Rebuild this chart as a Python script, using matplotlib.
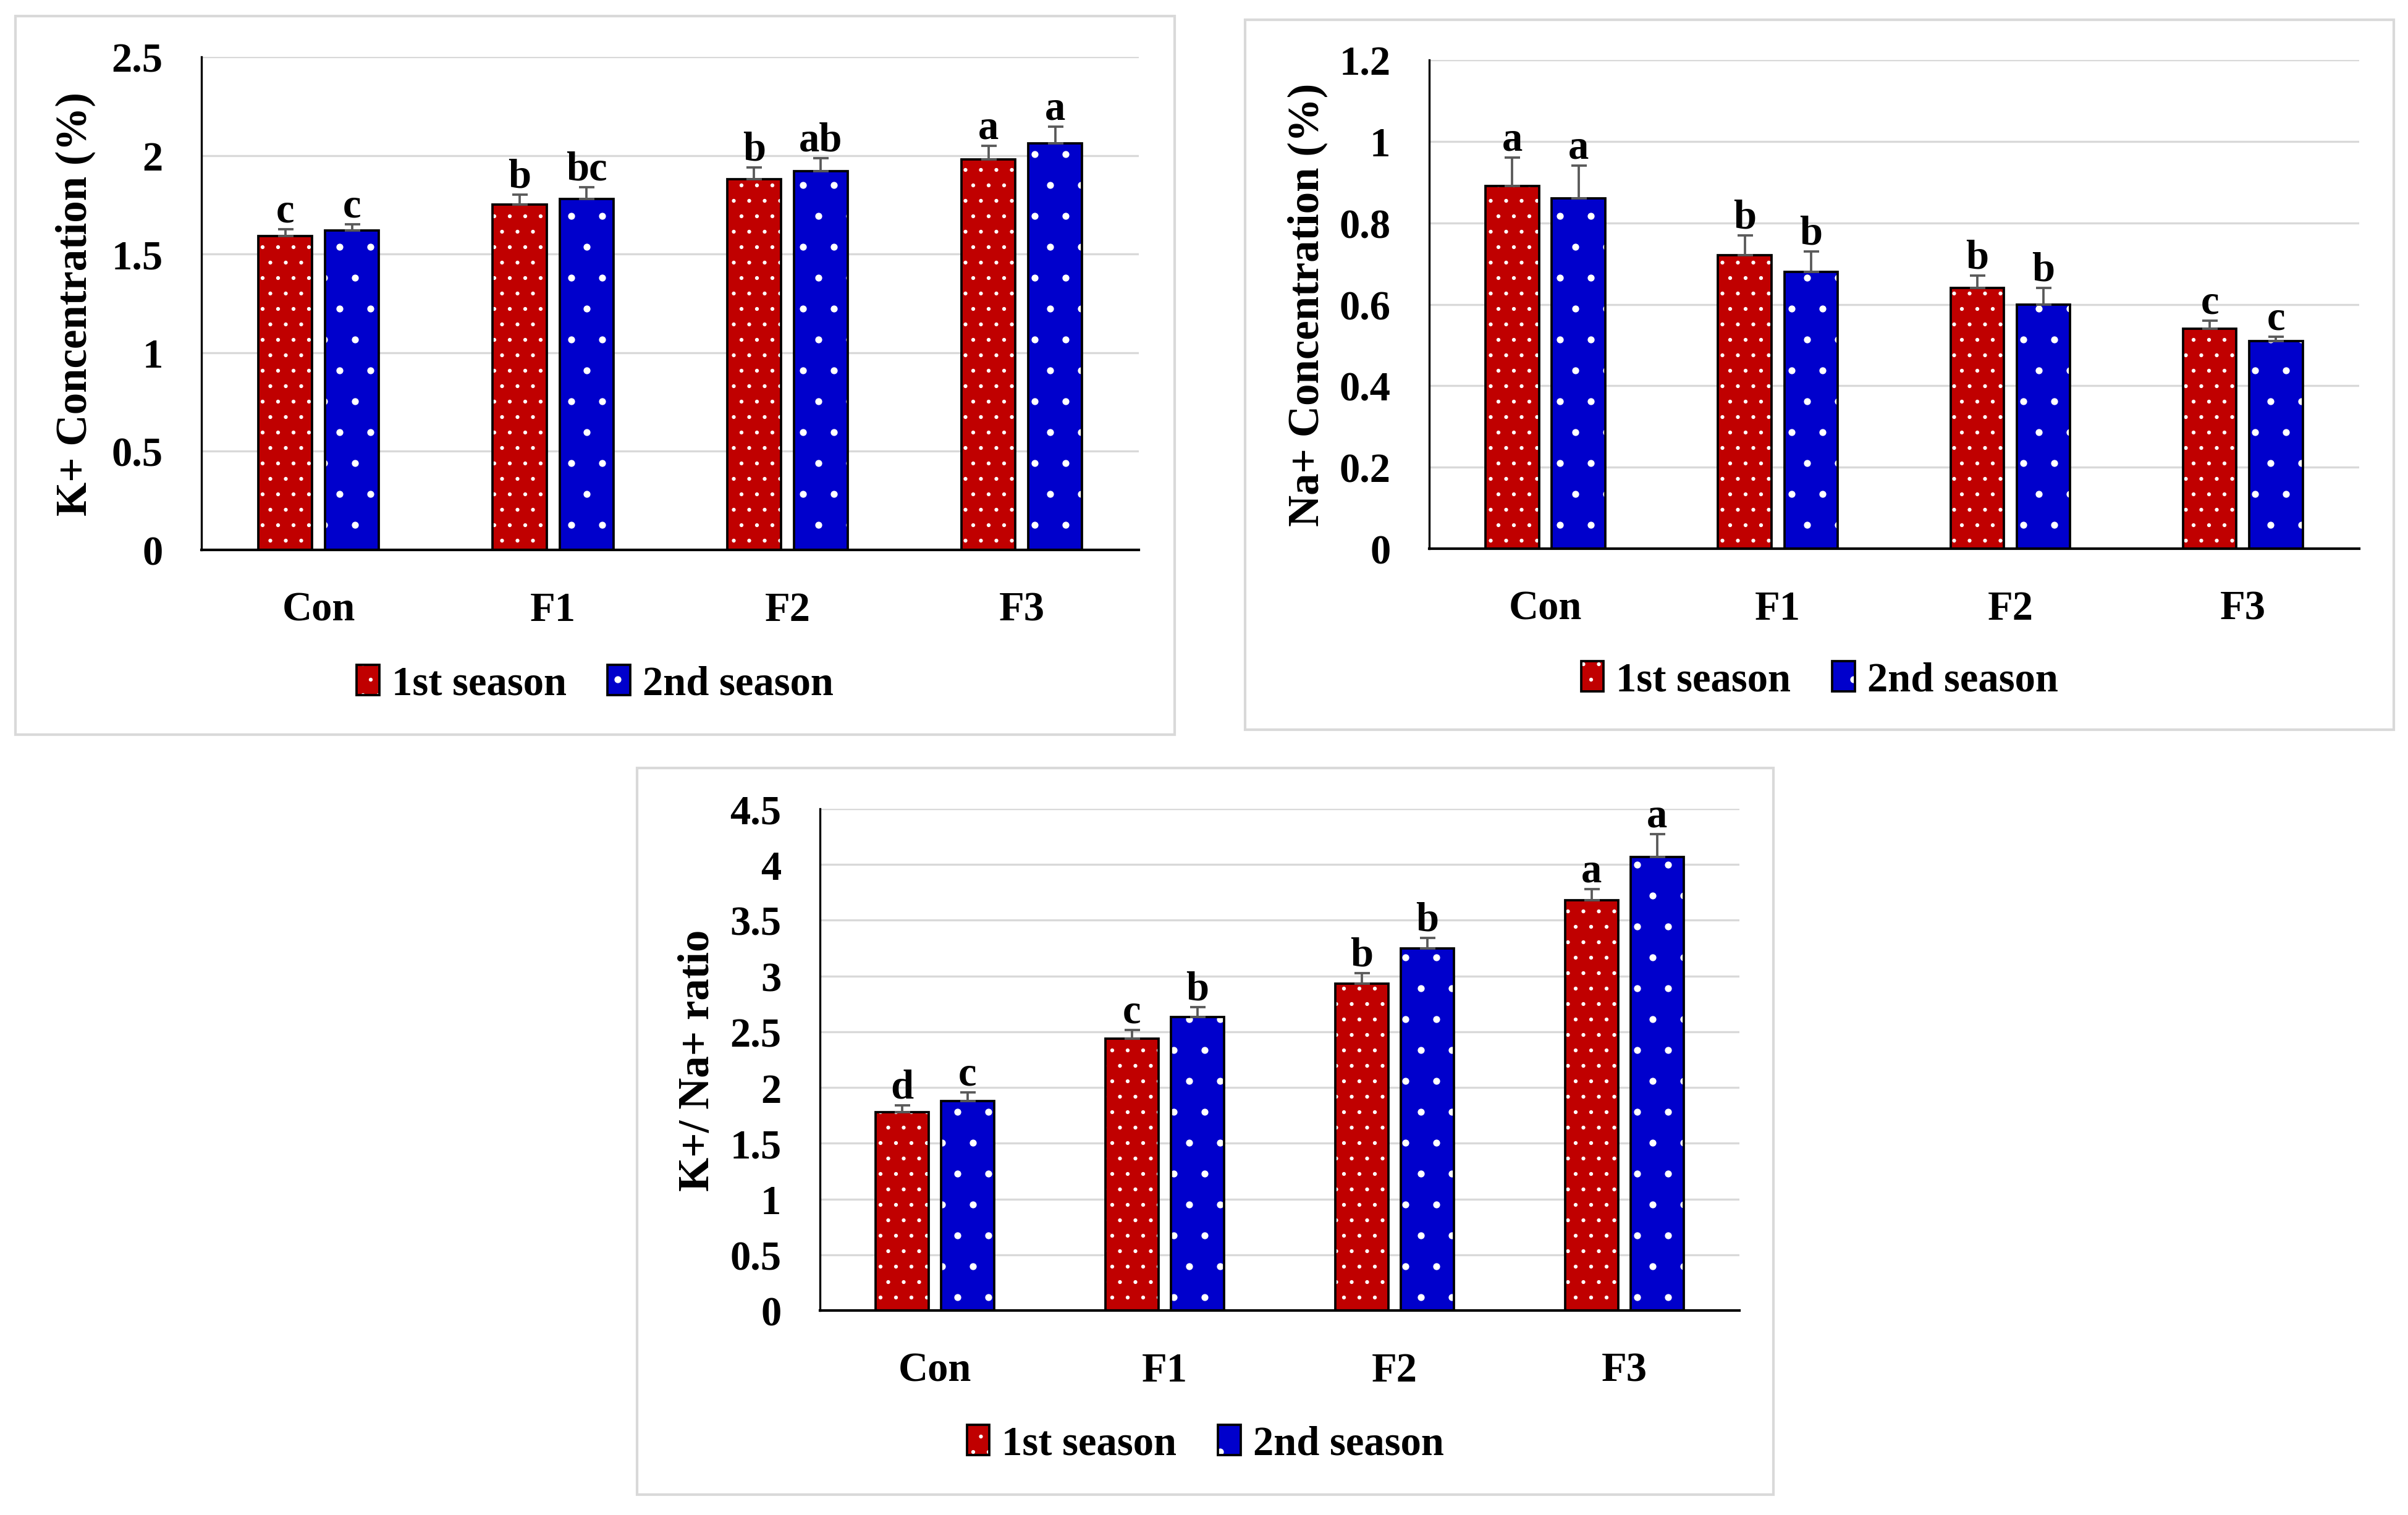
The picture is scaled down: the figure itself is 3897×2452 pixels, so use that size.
import matplotlib
matplotlib.use("Agg")
import matplotlib.pyplot as plt
import numpy as np
from matplotlib.patches import Rectangle, Patch

plt.rcParams['font.family'] = ['Liberation Serif', 'DejaVu Serif']
plt.rcParams['font.weight'] = 'bold'
plt.rcParams['hatch.linewidth'] = 0.3

# ---- data ----
categories = ['Con', 'F1', 'F2', 'F3']
seasons = ['1st season', '2nd season']

k_s1 = [1.59, 1.75, 1.88, 1.98]
k_s2 = [1.62, 1.78, 1.92, 2.06]
k_err1 = [0.035, 0.05, 0.06, 0.07]
k_err2 = [0.03, 0.06, 0.065, 0.085]
k_let1 = ['c', 'b', 'b', 'a']
k_let2 = ['c', 'bc', 'ab', 'a']

na_s1 = [0.89, 0.72, 0.64, 0.54]
na_s2 = [0.86, 0.68, 0.60, 0.51]
na_err1 = [0.07, 0.05, 0.03, 0.02]
na_err2 = [0.08, 0.05, 0.04, 0.01]
na_let1 = ['a', 'b', 'b', 'c']
na_let2 = ['a', 'b', 'b', 'c']

ratio_s1 = [1.78, 2.44, 2.93, 3.68]
ratio_s2 = [1.88, 2.63, 3.25, 4.07]
ratio_err1 = [0.06, 0.075, 0.095, 0.10]
ratio_err2 = [0.075, 0.09, 0.09, 0.20]
ratio_let1 = ['d', 'c', 'b', 'a']
ratio_let2 = ['c', 'b', 'b', 'a']

colors = ['#C00000', '#0000CC']
hatches = ['..', '.']
FS = 16

W, H = 3897, 2453
fig = plt.figure(figsize=(W / 300, H / 300), dpi=300)


def draw_panel(ax_rect, box_rect, legend_y, ylabel, label_x, vals, errs, lets, ymax, step):
    # frame round the chart area
    fig.add_artist(Rectangle((box_rect[0], box_rect[1]), box_rect[2], box_rect[3],
                             transform=fig.transFigure, fill=False,
                             edgecolor='#d9d9d9', lw=1.0))
    ax = fig.add_axes(ax_rect)
    x = np.arange(len(categories))
    width = 0.23
    offsets = [-0.1425, 0.1425]
    for k in range(2):
        xs = x + offsets[k]
        ax.bar(xs, vals[k], width, color=colors[k], hatch=hatches[k],
               edgecolor='white', linewidth=0, zorder=2)
        ax.bar(xs, vals[k], width, fill=False, edgecolor='black',
               linewidth=0.9, zorder=3)
        ax.errorbar(xs, vals[k], yerr=[np.zeros(len(xs)), errs[k]], fmt='none',
                    ecolor='#595959', elinewidth=0.9, capsize=3, capthick=0.9,
                    zorder=4)
        for xi, v, e, t in zip(xs, vals[k], errs[k], lets[k]):
            ax.annotate(t, (xi, v + e), xytext=(0, 3), textcoords='offset points',
                        ha='center', va='baseline', fontsize=FS, fontweight='bold')

    ax.set_xlim(-0.5, len(categories) - 0.5)
    ax.set_ylim(0, ymax)
    ticks = np.arange(0, ymax + step / 2, step)
    ax.set_yticks(ticks)
    ax.set_yticklabels([f"{t:g}" for t in ticks])
    ax.set_xticks(x)
    ax.set_xticklabels(categories)
    ax.tick_params(axis='y', length=0, pad=15, labelsize=FS)
    ax.tick_params(axis='x', length=0, pad=16, labelsize=FS)
    ax.yaxis.grid(True, color='#d9d9d9', lw=0.8, zorder=0)
    ax.set_axisbelow(True)
    for s in ['top', 'right']:
        ax.spines[s].set_visible(False)
    ax.spines['left'].set_linewidth(0.8)
    ax.spines['bottom'].set_linewidth(1.0)
    ax.set_ylabel(ylabel, fontsize=17, fontweight='bold')
    ax.yaxis.set_label_coords(label_x, 0.5)

    handles = [(Patch(facecolor=colors[k], hatch=hatches[k], edgecolor='white', lw=0),
                Patch(fill=False, edgecolor='black', lw=0.9)) for k in range(2)]
    ax.legend(handles, seasons, loc='center',
              bbox_to_anchor=(box_rect[0] + box_rect[2] / 2, legend_y),
              bbox_transform=fig.transFigure, ncol=2, frameon=False,
              prop={'size': FS, 'weight': 'bold'}, handlelength=0.55,
              handleheight=0.75, handletextpad=0.3, columnspacing=1.0)
    return ax


draw_panel([0.0837, 0.6368, 0.3893, 0.3253], [0.0064, 0.5149, 0.4814, 0.4741],
           1 - 1108 / H, 'K+ Concentration (%)', -0.113,
           [k_s1, k_s2], [k_err1, k_err2], [k_let1, k_let2], 2.5, 0.5)

draw_panel([0.5935, 0.6376, 0.3862, 0.3224], [0.5171, 0.5181, 0.4770, 0.4684],
           1 - 1102 / H, 'Na+ Concentration (%)', -0.109,
           [na_s1, na_s2], [na_err1, na_err2], [na_let1, na_let2], 1.2, 0.2)

draw_panel([0.3405, 0.1349, 0.3818, 0.3311], [0.2646, 0.0135, 0.4719, 0.4794],
           1 - 2338 / H, 'K+/ Na+ ratio', -0.111,
           [ratio_s1, ratio_s2], [ratio_err1, ratio_err2], [ratio_let1, ratio_let2], 4.5, 0.5)

fig.savefig('out.png', dpi=300, facecolor='white')
